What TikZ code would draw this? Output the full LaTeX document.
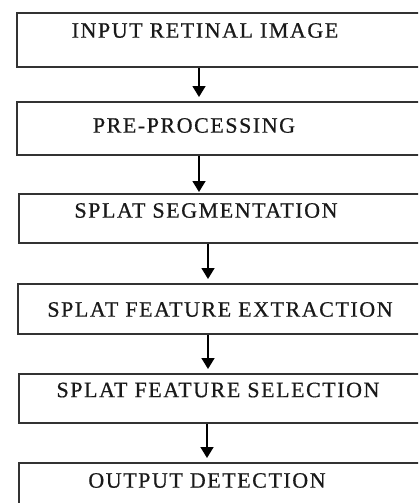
\documentclass[tikz,border=0pt]{standalone}
\usepackage{fontspec}
\setmainfont{Liberation Serif}
\usetikzlibrary{arrows.meta}
\tikzset{
	stagebox/.style={draw=black!80, line width=1.6pt, rectangle, minimum width=440pt, anchor=north west, inner sep=0pt},
	stagetext/.style={text=black!90, inner sep=0pt, font=\fontsize{22}{26}\selectfont\addfontfeatures{LetterSpace=7,FakeBold=0.6}},
	flow/.style={line width=1.6pt, -{Triangle[length=11pt,width=13pt]}, shorten >=4pt}
}
\begin{document}
\begin{tikzpicture}[x=1pt,y=-1pt]
	\useasboundingbox (0,0) rectangle (418,503);
	\clip (0,0) rectangle (418,503);
	\node [stagebox, minimum height=54pt] (input) at (16,12) {};
	\node [stagebox, minimum height=53pt] (prep) at (16,101) {};
	\node [stagebox, minimum height=49pt] (segm) at (18,193) {};
	\node [stagebox, minimum height=50pt] (extr) at (17,283) {};
	\node [stagebox, minimum height=49pt] (selc) at (18,373) {};
	\node [stagebox, minimum height=54pt] (outp) at (18,462) {};
	\node [stagetext] (inputtxt) at (205,30.5) {INPUT RETINAL IMAGE};
	\node [stagetext] (preptxt) at (194,125.5) {PRE-PROCESSING};
	\node [stagetext] (segmtxt) at (206,210.5) {SPLAT SEGMENTATION};
	\node [stagetext] (extrtxt) at (220,309.5) {SPLAT FEATURE EXTRACTION};
	\node [stagetext] (selctxt) at (218,390) {SPLAT FEATURE SELECTION};
	\node [stagetext] (outptxt) at (207,480.5) {OUTPUT DETECTION};
	\coordinate (xa) at (199,0);
	\coordinate (xb) at (208,0);
	\coordinate (xc) at (207,0);
	\draw [flow] (input.south -| xa) -- (prep.north -| xa);
	\draw [flow, shorten >=1pt] (prep.south -| xa) -- (segm.north -| xa);
	\draw [flow] (segm.south -| xb) -- (extr.north -| xb);
	\draw [flow] (extr.south -| xb) -- (selc.north -| xb);
	\draw [flow] (selc.south -| xc) -- (outp.north -| xc);
\end{tikzpicture}
\end{document}
